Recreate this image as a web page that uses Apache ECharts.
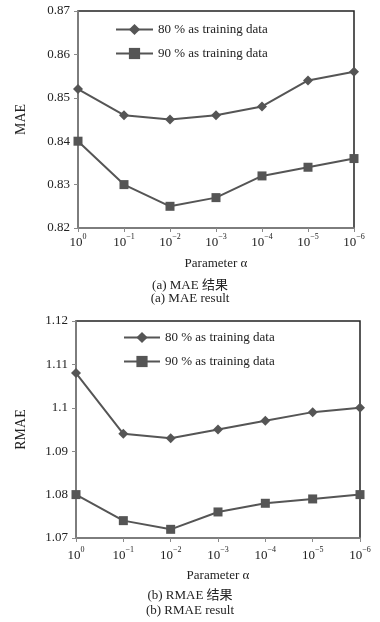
<!DOCTYPE html>
<html><head><meta charset="utf-8">
<script src="https://cdn.jsdelivr.net/npm/echarts@6/dist/echarts.min.js"></script>
<style>html,body{margin:0;padding:0;background:#fff}#c{width:380px;height:622px}</style>
</head><body><div id="c"></div>
<script>
const categories = ['0', '−1', '−2', '−3', '−4', '−5', '−6'];
const seriesNames = ['80 % as training data', '90 % as training data'];
const mae80 = [0.852, 0.846, 0.845, 0.846, 0.848, 0.854, 0.856];
const mae90 = [0.840, 0.830, 0.825, 0.827, 0.832, 0.834, 0.836];
const rmae80 = [1.108, 1.094, 1.093, 1.095, 1.097, 1.099, 1.100];
const rmae90 = [1.080, 1.074, 1.072, 1.076, 1.078, 1.079, 1.080];
const maeTicks = {min: 0.82, max: 0.87, interval: 0.01};
const rmaeTicks = {min: 1.07, max: 1.12, interval: 0.01};

const font = 'Liberation Serif, Times New Roman, serif';
const lineColor = '#555';
const axisGrey = '#8a8a8a';

function xAxis(gi, margin, nameGap) {
  return {
    type: 'category', gridIndex: gi, data: categories, boundaryGap: false,
    axisLine: {lineStyle: {color: axisGrey, width: 1.5}},
    axisTick: {show: true, length: 4, interval: 0, lineStyle: {color: axisGrey}},
    axisLabel: {
      margin: margin, interval: 0,
      formatter: v => '{b|10}{s|' + v + '}',
      rich: {
        b: {fontFamily: font, fontSize: 13, color: '#222', lineHeight: 16, verticalAlign: 'bottom'},
        s: {fontFamily: font, fontSize: 8, color: '#222', lineHeight: 16, verticalAlign: 'top', padding: [0, 0, 6, 0]}
      }
    },
    name: 'Parameter α', nameLocation: 'middle', nameGap: nameGap, nameMoveOverlap: false,
    nameTextStyle: {fontFamily: font, fontSize: 13, color: '#222'}
  };
}
function yAxis(gi, t, name, gap) {
  return {
    type: 'value', gridIndex: gi, min: t.min, max: t.max, interval: t.interval,
    axisLine: {show: true, lineStyle: {color: axisGrey, width: 1.5}},
    axisTick: {show: true, length: 4, lineStyle: {color: axisGrey}},
    splitLine: {show: false},
    axisLabel: {fontFamily: font, fontSize: 13, color: '#222', margin: 8,
      formatter: v => String(parseFloat(v.toFixed(3)))},
    name: name, nameLocation: 'middle', nameRotate: 90, nameGap: gap, nameMoveOverlap: false,
    nameTextStyle: {fontFamily: font, fontSize: 14, color: '#222'}
  };
}
function series(name, data, gi, sym, size) {
  return {
    name: name, type: 'line', xAxisIndex: gi, yAxisIndex: gi, data: data,
    symbol: sym, symbolSize: size, showSymbol: true,
    lineStyle: {color: lineColor, width: 2},
    itemStyle: {color: lineColor}, emphasis: {disabled: true}, animation: false
  };
}
function legend(left, top, w) {
  return {
    orient: 'vertical', left: left, top: top, itemGap: 11, itemWidth: w, itemHeight: 14,
    textStyle: {fontFamily: font, fontSize: 13, color: '#222'},
    data: [seriesNames[0], seriesNames[1]]
  };
}
function caption(text, top) {
  return {text: text, left: 'center', top: top, padding: 0,
    textStyle: {fontFamily: font + ', Noto Sans CJK SC', fontSize: 13, fontWeight: 'normal', color: '#222'}};
}

const chart = echarts.init(document.getElementById('c'), null, {renderer: 'canvas'});
chart.setOption({
  animation: false,
  grid: [
    {left: 78, right: 26, top: 11, height: 217, show: true, borderColor: '#222', borderWidth: 1.5},
    {left: 76, right: 20, top: 321, height: 217, show: true, borderColor: '#222', borderWidth: 1.5}
  ],
  xAxis: [xAxis(0, 5, 29), xAxis(1, 8, 31)],
  yAxis: [yAxis(0, maeTicks, 'MAE', 50), yAxis(1, rmaeTicks, 'RMAE', 48)],
  legend: [legend(110, 18, 37), legend(118, 326, 36)],
  series: [
    series(seriesNames[0], mae80, 0, 'diamond', 10),
    series(seriesNames[1], mae90, 0, 'rect', 9),
    series(seriesNames[0], rmae80, 1, 'diamond', 10),
    series(seriesNames[1], rmae90, 1, 'rect', 9)
  ],
  title: [
    caption('(a) MAE 结果', 279),
    caption('(a) MAE result', 292),
    caption('(b) RMAE 结果', 589),
    caption('(b) RMAE result', 604)
  ]
});
</script></body></html>
